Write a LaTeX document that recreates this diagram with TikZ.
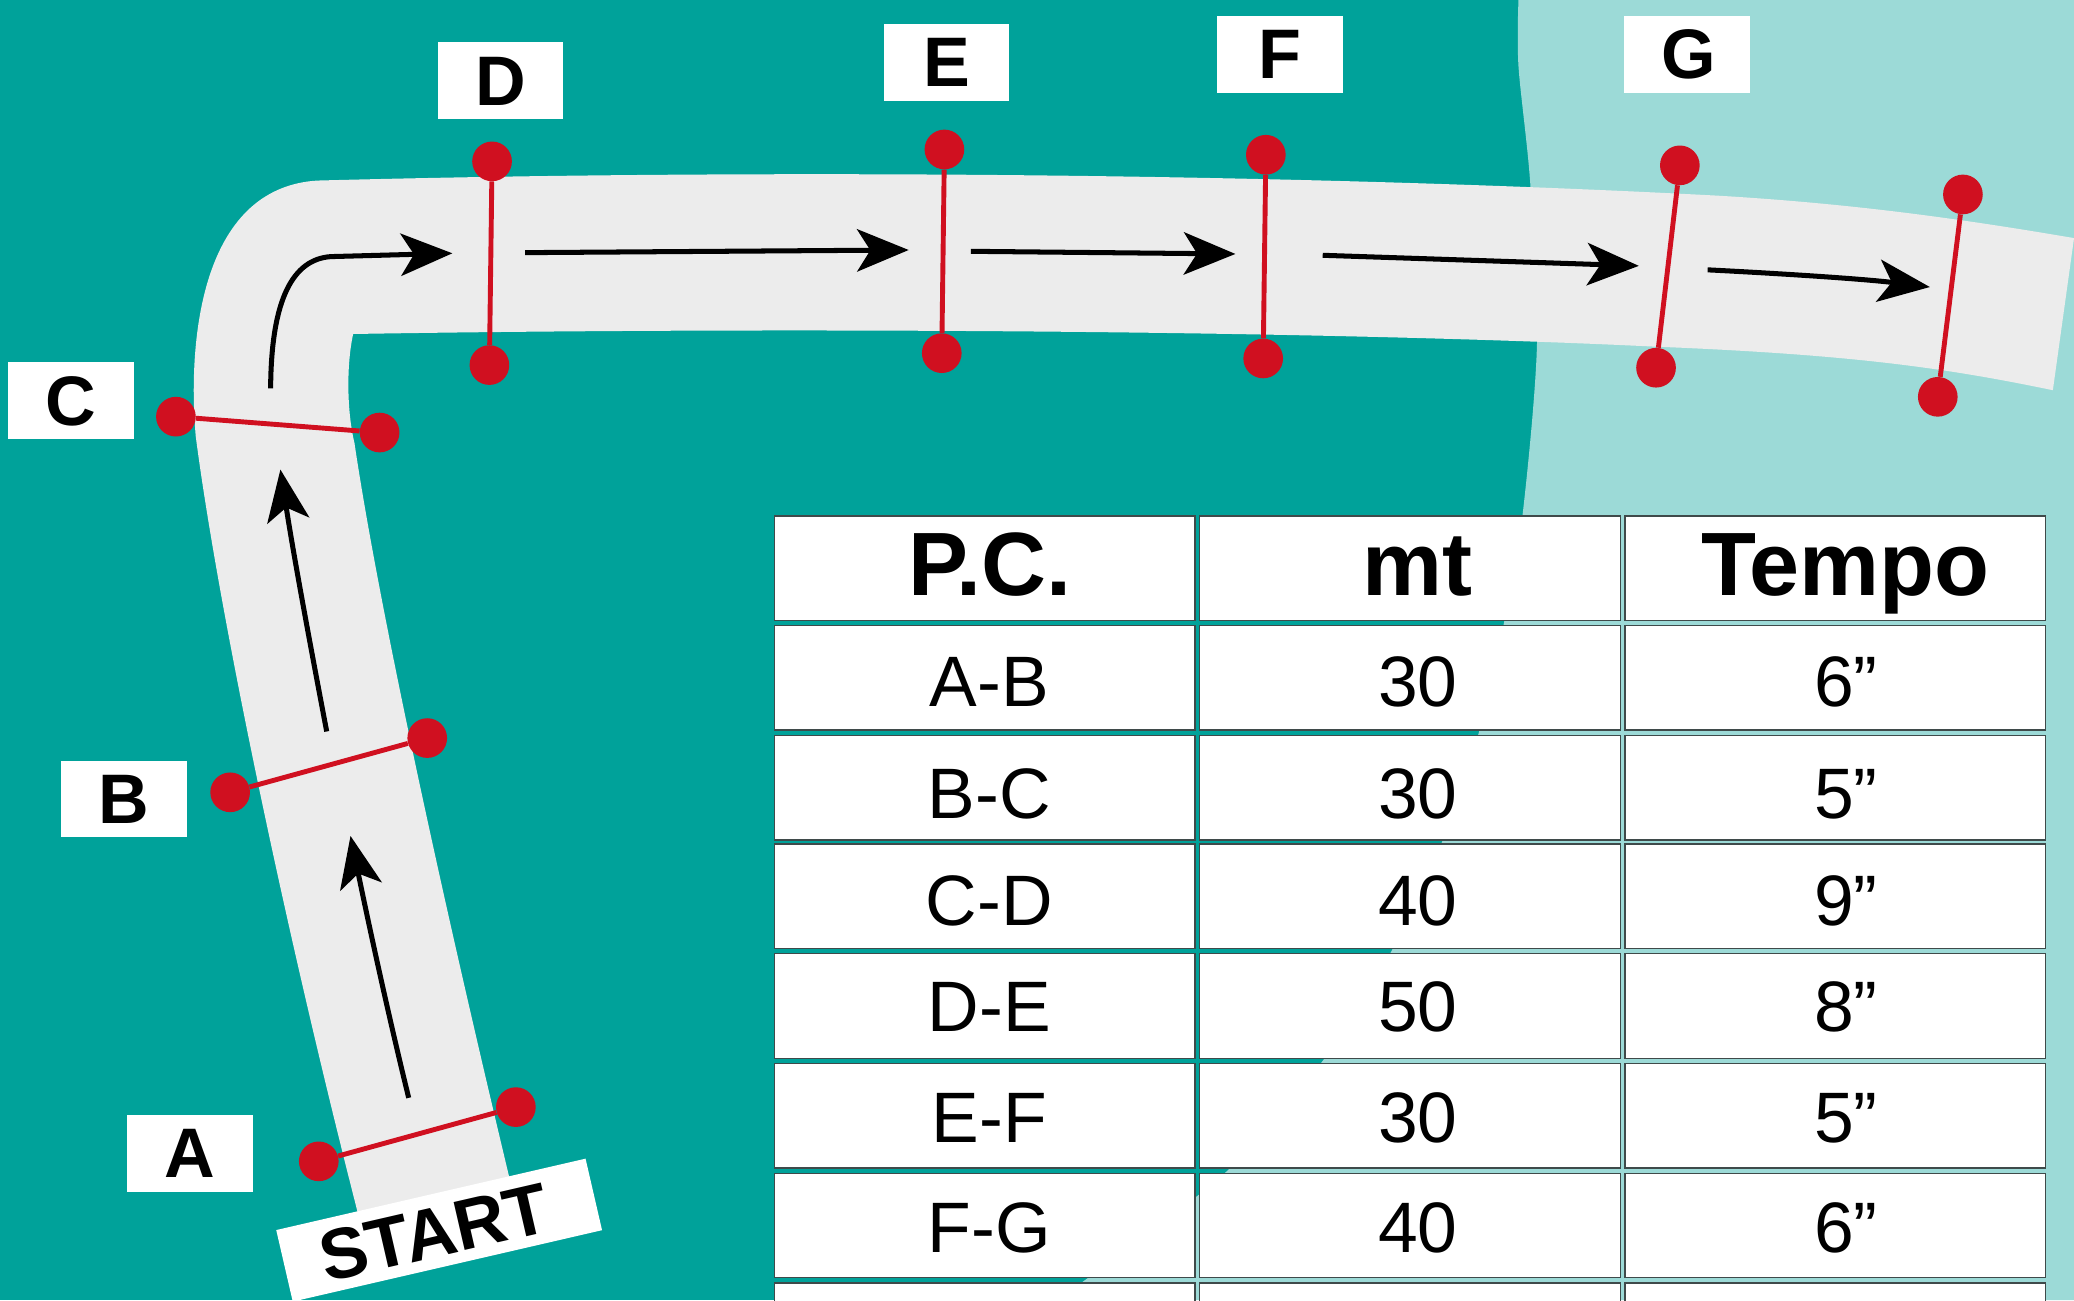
\documentclass[tikz,border=0pt]{standalone}
\usepackage{fontspec}
\setmainfont{Liberation Sans}
\usetikzlibrary{arrows.meta}
\definecolor{tealbg}{HTML}{00A29A}
\definecolor{lightbg}{HTML}{9CDAD7}
\definecolor{roadc}{HTML}{ECECEC}
\definecolor{redc}{HTML}{D01020}
\definecolor{celledge}{HTML}{3F4A4A}
\tikzset{
  dot/.style={circle,fill=redc,draw=none,minimum size=30pt,inner sep=0pt},
  gate/.style={draw=redc,line width=3.7pt},
  flow/.style={draw=black,line width=3.8pt,-{Stealth[length=39pt,width=32pt,inset=10pt]}},
  letterbox/.style={fill=white,draw=none,minimum width=95pt,minimum height=58pt,inner sep=0pt,
     font=\fontsize{53}{53}\selectfont\bfseries,text height=37pt,text depth=0pt},
  cell/.style={fill=white,draw=celledge,line width=1pt,minimum width=318pt,minimum height=79pt,inner sep=0pt,
     font=\fontsize{54}{54}\selectfont,text height=#1,text depth=0pt},
  cell/.default=44pt,
  head/.style={cell=41pt,font=\fontsize{68}{68}\selectfont\bfseries},
}
\begin{document}
\begin{tikzpicture}[x=1pt,y=-1pt]
\useasboundingbox (0,0) rectangle (1568,982.85);
\fill[tealbg] (0,0) rectangle (1568,982.85);
\fill[lightbg] plot[smooth] coordinates {(1148,0) (1148,50) (1157,140) (1162,260) (1151,390) (1137,471) (1118,554) (1090,637) (1052,719) (1000,802) (928,885) (820,968) (795,983)} -- (1568,982.85) -- (1568,0) -- cycle;
% road
\fill[roadc] (272,925) -- (270,915) .. controls (215,700) and (165,460) .. (148,330)
  .. controls (142,262) and (150,142) .. (240,136.5)
  .. controls (600,127) and (1000,132) .. (1300,148)
  .. controls (1400,154) and (1480,165) .. (1568,180)
  -- (1552,295)
  .. controls (1470,278) and (1400,268) .. (1250,262)
  .. controls (1000,250) and (600,247) .. (267,252.5)
  .. controls (262,275) and (262,310) .. (268,335)
  .. controls (285,450) and (330,660) .. (385,890) -- cycle;
% flow arrows
\coordinate (f1a) at (309,830); \coordinate (f1b) at (265,632);
\coordinate (f2a) at (247,553); \coordinate (f2b) at (212,355);
\coordinate (f3a) at (204.6,293.6); \coordinate (f3b) at (342,191.5);
\coordinate (f4a) at (397,191); \coordinate (f4b) at (687,189);
\coordinate (f5a) at (734,190); \coordinate (f5b) at (934,192);
\coordinate (f6a) at (1000,193); \coordinate (f6b) at (1239,201);
\coordinate (f7a) at (1291,204); \coordinate (f7b) at (1459,217);
\draw[flow] (f1a) .. controls (293,765) and (278,695) .. (f1b);
\draw[flow] (f2a) .. controls (235,490) and (222,420) .. (f2b);
\draw[flow] (f3a) .. controls (205,225) and (222,196) .. (250,194) -- (f3b);
\draw[flow] (f4a) -- (f4b);
\draw[flow] (f5a) -- (f5b);
\draw[flow] (f6a) -- (f6b);
\draw[flow] (f7a) .. controls (1350,207) and (1410,211) .. (f7b);
% gates
\node[dot] (a1) at (241,878) {}; \node[dot] (a2) at (390,837) {};
\node[dot] (b1) at (174,599) {}; \node[dot] (b2) at (323,558) {};
\node[dot] (c1) at (133,315) {}; \node[dot] (c2) at (287,327) {};
\node[dot] (d1) at (372,122) {}; \node[dot] (d2) at (370,276) {};
\node[dot] (e1) at (714,113) {}; \node[dot] (e2) at (712,267) {};
\node[dot] (f1) at (957,117) {}; \node[dot] (f2) at (955,271) {};
\node[dot] (g1) at (1270,125) {}; \node[dot] (g2) at (1252,278) {};
\node[dot] (h1) at (1484,147) {}; \node[dot] (h2) at (1465,300) {};
\foreach \p/\q in {a1/a2,b1/b2,c1/c2,d1/d2,e1/e2,f1/f2,g1/g2,h1/h2}
  \draw[gate] (\p) -- (\q);
% letters
\node[letterbox] (la) at (143.5,872) {A};
\node[letterbox] (lb) at (93.5,604) {B};
\node[letterbox] (lc) at (53.5,303) {C};
\node[letterbox] (ld) at (378.5,61) {D};
\node[letterbox] (le) at (715.5,47) {E};
\node[letterbox] (lf) at (967.5,41) {F};
\node[letterbox] (lg) at (1275.5,41) {\hspace*{3pt}G};
\node[fill=white,minimum width=240pt,minimum height=55.5pt,inner sep=0pt,rotate=13,
  text height=39pt,text depth=0pt,
  font=\fontsize{54}{54}\selectfont\bfseries] (start) at (332,930) {START\hspace*{8pt}};
% table
\node[head] (t11) at (744.5,429.5) {\hspace*{8pt}P.C.};
\node[head] (t12) at (1066,429.5) {\hspace*{12pt}mt};
\node[head] (t13) at (1387.5,429.5) {\hspace*{15pt}Tempo};
\foreach \n/\y/\h/\p/\m/\t in {2/512.5/43/A-B/30/6”,3/595.5/46/B-C/30/5”,4/677.5/44/C-D/40/9”,5/760.5/38/D-E/50/8”,6/843.5/41/E-F/30/5”,7/926.5/41/F-G/40/6”,8/1009.5/44//{}/{}}{
  \node[cell=\h pt] (t\n1) at (744.5,\y) {\hspace*{7pt}\p};
  \node[cell=\h pt] (t\n2) at (1066,\y) {\hspace*{12pt}\m};
  \node[cell=\h pt] (t\n3) at (1387.5,\y) {\hspace*{16pt}\t};
}
\end{tikzpicture}
\end{document}
